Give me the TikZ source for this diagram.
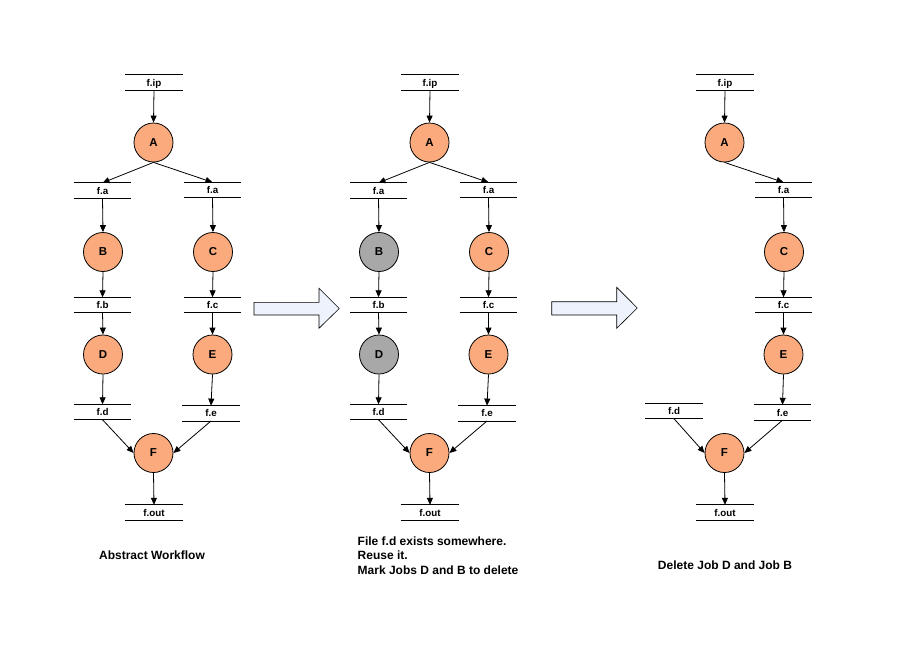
\documentclass[tikz,border=0pt]{standalone}
\usepackage{fontspec}
\setmainfont{Liberation Sans}
\usetikzlibrary{arrows.meta}
\definecolor{salmon}{RGB}{250,170,124}
\definecolor{jobgray}{RGB}{168,168,168}
\definecolor{bigarrow}{RGB}{238,242,252}
\newcommand{\fnode}[4]{%
  \node[fileb] (#1) at (#2,#3) {#4};
  \draw[fileline] (#1.north west) -- (#1.north east) (#1.south west) -- (#1.south east);}
\begin{document}
\begin{tikzpicture}[x=1pt,y=-1pt,
  job/.style={circle, draw, fill=salmon, minimum size=39pt, inner sep=0pt, line width=0.8pt,
    font=\fontsize{11.5}{13}\selectfont\bfseries},
  deljob/.style={job, fill=jobgray},
  fileb/.style={minimum width=57pt, minimum height=15pt, inner sep=0pt,
    text height=7.8pt, text depth=0.8pt,
    font=\fontsize{9.8}{11}\selectfont\bfseries},
  fileline/.style={line width=0.8pt},
  flow/.style={line width=0.8pt, -{Triangle[length=7pt,width=6pt]}},
  bigarr/.style={draw, fill=bigarrow, line width=0.6pt},
  caption/.style={font=\fontsize{12}{14.5}\selectfont\bfseries, inner sep=0pt}]
\useasboundingbox (0,0) rectangle (911,659);

% ---------- Panel 1 ----------
\fnode{a1fip}{154}{82.5}{f.ip}
\node[job] (a1A) at (153.5,142.5) {A};
\fnode{a1faL}{102.5}{190.5}{f.a}
\fnode{a1faR}{212.5}{190}{f.a}
\node[job] (a1B) at (103,252) {B};
\node[job] (a1C) at (213,252) {C};
\fnode{a1fb}{102.5}{305}{f.b}
\fnode{a1fc}{212.5}{305}{f.c}
\node[job] (a1D) at (103,354.5) {D};
\node[job] (a1E) at (212.5,354.5) {E};
\fnode{a1fd}{102.5}{412}{f.d}
\fnode{a1fe}{211}{413.3}{f.e}
\node[job] (a1F) at (153.5,453) {F};
\fnode{a1fout}{154}{512.5}{f.out}
\draw[flow] (a1fip.south) -- (a1A.north);
\draw[flow] (a1A.south) -- (a1faL.north);
\draw[flow] (a1A.south) -- (a1faR.north);
\draw[flow] (a1faL.south) -- (a1B.north);
\draw[flow] (a1faR.south) -- (a1C.north);
\draw[flow] (a1B.south) -- (a1fb.north);
\draw[flow] (a1C.south) -- (a1fc.north);
\draw[flow] (a1fb.south) -- (a1D.north);
\draw[flow] (a1fc.south) -- (a1E.north);
\draw[flow] (a1D.south) -- (a1fd.north);
\draw[flow] (a1E.south) -- (a1fe.north);
\draw[flow] (a1fd.south) -- (a1F.west);
\draw[flow] (a1fe.south) -- (a1F.east);
\draw[flow] (a1F.south) -- (a1fout.north);
\node[caption] (cap1) at (152,555) {Abstract Workflow};

% ---------- Big arrow 1 ----------
\draw[bigarr] (254,302.3) -- (319,302.3) -- (319,288.3) -- (339.3,308.5) -- (319,328.3) -- (319,315) -- (254,315) -- cycle;

% ---------- Panel 2 ----------
\fnode{a2fip}{430}{82.5}{f.ip}
\node[job] (a2A) at (429.5,142.5) {A};
\fnode{a2faL}{378.5}{190.5}{f.a}
\fnode{a2faR}{488.5}{190}{f.a}
\node[deljob] (a2B) at (379,252) {B};
\node[job] (a2C) at (489,252) {C};
\fnode{a2fb}{378.5}{305}{f.b}
\fnode{a2fc}{488.5}{305}{f.c}
\node[deljob] (a2D) at (379,354.5) {D};
\node[job] (a2E) at (488.5,354.5) {E};
\fnode{a2fd}{378.5}{412}{f.d}
\fnode{a2fe}{487}{413.3}{f.e}
\node[job] (a2F) at (429.5,453) {F};
\fnode{a2fout}{430}{512.5}{f.out}
\draw[flow] (a2fip.south) -- (a2A.north);
\draw[flow] (a2A.south) -- (a2faL.north);
\draw[flow] (a2A.south) -- (a2faR.north);
\draw[flow] (a2faL.south) -- (a2B.north);
\draw[flow] (a2faR.south) -- (a2C.north);
\draw[flow] (a2B.south) -- (a2fb.north);
\draw[flow] (a2C.south) -- (a2fc.north);
\draw[flow] (a2fb.south) -- (a2D.north);
\draw[flow] (a2fc.south) -- (a2E.north);
\draw[flow] (a2D.south) -- (a2fd.north);
\draw[flow] (a2E.south) -- (a2fe.north);
\draw[flow] (a2fd.south) -- (a2F.west);
\draw[flow] (a2fe.south) -- (a2F.east);
\draw[flow] (a2F.south) -- (a2fout.north);
\node[caption, anchor=north west, align=left] (cap2) at (357.5,536.5) {File f.d exists somewhere.\\Reuse it.\\Mark Jobs D and B to delete};

% ---------- Big arrow 2 ----------
\draw[bigarr] (551.7,301.7) -- (616.7,301.7) -- (616.7,287.3) -- (637.3,308) -- (616.7,328.3) -- (616.7,315) -- (551.7,315) -- cycle;

% ---------- Panel 3 ----------
\fnode{a3fip}{725}{82.5}{f.ip}
\node[job] (a3A) at (724.5,142.5) {A};
\fnode{a3faR}{783.5}{190}{f.a}
\node[job] (a3C) at (784,252) {C};
\fnode{a3fc}{783.5}{305}{f.c}
\node[job] (a3E) at (783.5,354.5) {E};
\fnode{a3fd}{674}{411}{f.d}
\fnode{a3fe}{782.5}{412.5}{f.e}
\node[job] (a3F) at (724.5,453) {F};
\fnode{a3fout}{725}{512.5}{f.out}
\draw[flow] (a3fip.south) -- (a3A.north);
\draw[flow] (a3A.south) -- (a3faR.north);
\draw[flow] (a3faR.south) -- (a3C.north);
\draw[flow] (a3C.south) -- (a3fc.north);
\draw[flow] (a3fc.south) -- (a3E.north);
\draw[flow] (a3E.south) -- (a3fe.north);
\draw[flow] (a3fd.south) -- (a3F.west);
\draw[flow] (a3fe.south) -- (a3F.east);
\draw[flow] (a3F.south) -- (a3fout.north);
\node[caption] (cap3) at (725,565) {Delete Job D and Job B};
\end{tikzpicture}
\end{document}
